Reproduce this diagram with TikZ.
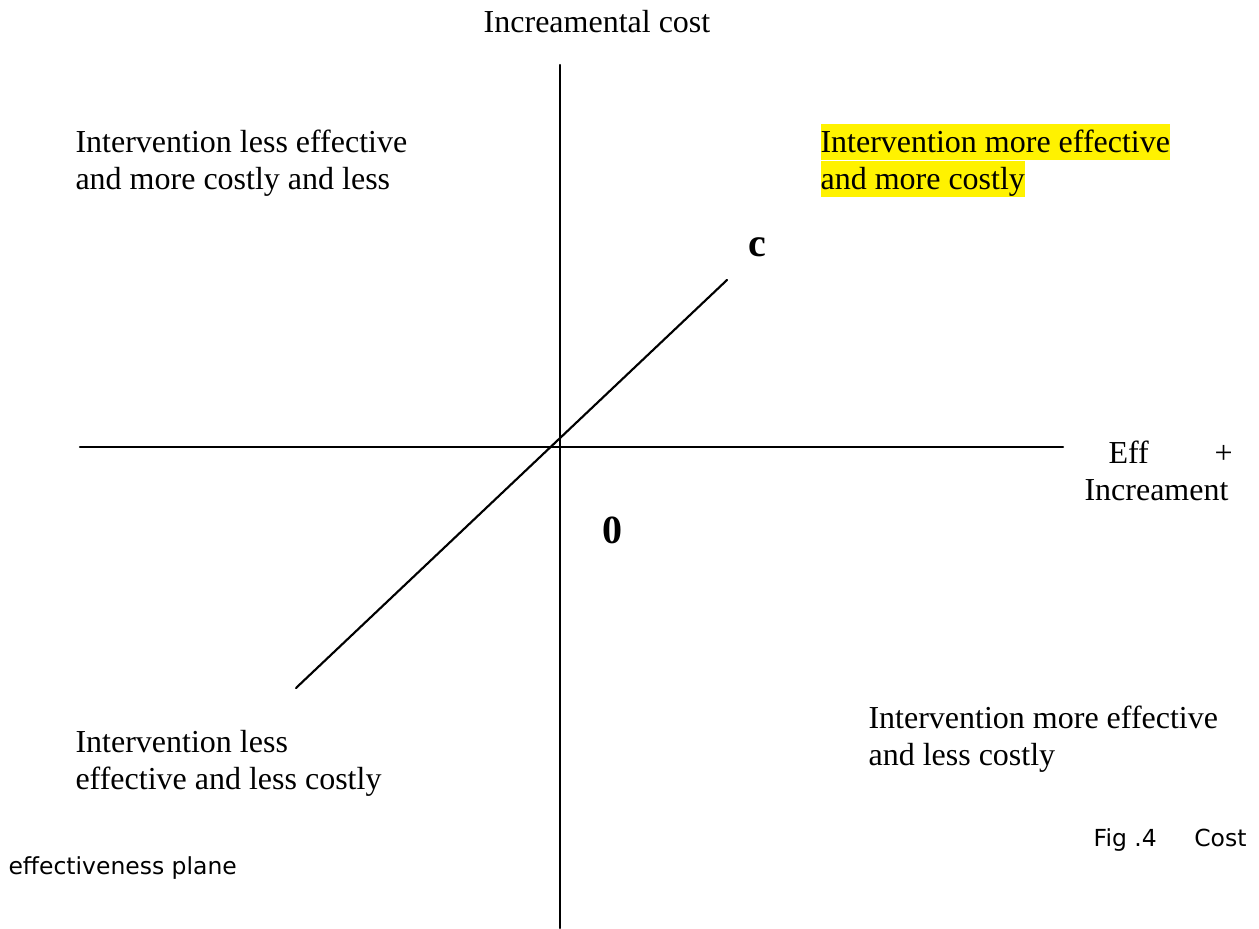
\documentclass[tikz,border=0pt]{standalone}
\usepackage{fontspec}
\setmainfont{Liberation Serif}
\newfontfamily\figfont{DejaVu Sans}
\tikzset{
  txt/.style={inner sep=0pt, anchor=base west, font=\fontsize{12}{14}\selectfont},
  bigtxt/.style={inner sep=0pt, anchor=base, font=\fontsize{15}{18}\selectfont\bfseries},
  captxt/.style={inner sep=0pt, font=\fontsize{8.8}{11}\selectfont\figfont},
  hilite/.style={txt, fill=yellow, text height=10.9pt, text depth=2.8pt},
  axis/.style={line width=0.8pt}
}
\begin{document}
\begin{tikzpicture}[x=0.375pt, y=-0.375pt, line join=round, line cap=round]
			\useasboundingbox (0,0) rectangle (1259,929);
			\coordinate (T) at (560,65); \coordinate (B) at (560,928);
			\coordinate (L) at (80,447); \coordinate (R) at (1063,447);
			\coordinate (P) at (296,688); \coordinate (C) at (727,280);
			\draw[axis] (T)--(B);
			\draw[axis] (L)--(R);
			\draw[axis] (P)--(C);
			% axis labels
			\node[txt, anchor=base] (ycap) at (597,33) {Increamental cost};
			\node[txt] (xcap1) at (1108,464) {Eff};
			\node[txt] (xplus) at (1214,464) {+};
			\node[txt] (xcap2) at (1084,501) {Increament};
			\node[bigtxt] (cc) at (757,257) {c};
			\node[bigtxt] (zero) at (612,543) {0};
			% quadrants
			\node[txt] (nw1) at (75,153) {Intervention less effective};
			\node[txt] (nw2) at (75,190) {and more costly and less};
			\node[hilite] (ne1) at (820,153) {Intervention more effective};
			\node[hilite] (ne2) at (820,190) {and more costly};
			\node[txt] (sw1) at (75,752) {Intervention less};
			\node[txt] (sw2) at (75,789) {effective and less costly};
			\node[txt] (se1) at (868,728) {Intervention more effective};
			\node[txt] (se2) at (868,765) {and less costly};
			% caption
			\node[captxt, anchor=base east] (fig1) at (1247,846) {Fig .4\hspace{1.6em}Cost};
			\node[captxt, anchor=base west] (fig2) at (8,874) {effectiveness plane};
		\end{tikzpicture}
\end{document}
